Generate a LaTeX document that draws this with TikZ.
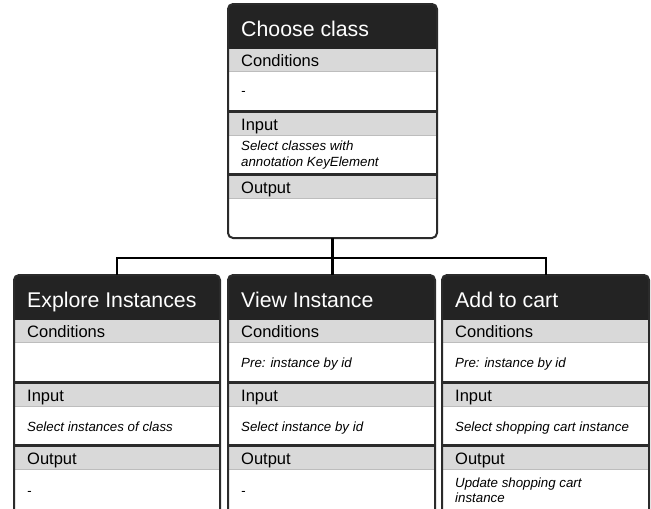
\documentclass[tikz,border=0pt]{standalone}
\usepackage{fontspec}
\setmainfont{Liberation Sans}
\definecolor{hdr}{HTML}{232323}
\definecolor{band}{HTML}{D9D9D9}
\definecolor{edge}{HTML}{2B2B2B}
\definecolor{thin}{HTML}{BDBDBD}
\tikzset{
 cardframe/.style={rectangle, rounded corners=5pt, fill=white, inner sep=0pt, outer sep=0pt},
 cardedge/.style={draw=edge, line width=2pt, rounded corners=5pt},
 hdrtext/.style={text=white, font=\fontsize{21.3}{25}\selectfont, inner sep=0pt, anchor=base west},
 labeltext/.style={text=black, font=\fontsize{16.5}{19}\selectfont, inner sep=0pt, anchor=base west},
 bodytext/.style={text=black, font=\fontsize{13.3}{15}\selectfont\itshape, inner sep=0pt, anchor=base west},
 sepline/.style={draw=edge, line width=3pt},
 thinline/.style={draw=thin, line width=1pt},
 conn/.style={draw=black, line width=2pt},
 connthick/.style={draw=black, line width=3pt},
}
\newcommand\card[6]{%
 \node[cardframe, minimum width=#4pt, minimum height=#5pt, anchor=north west] (#1) at (#2,#3) {};
 \begin{scope}
 \clip[rounded corners=5pt] (#1.north west) rectangle (#1.south east);
 \fill[hdr] (#1.north west) rectangle ++(#4,44.5);
 \foreach \k/\lab in {0/Conditions,1/Input,2/Output}{
   \pgfmathsetmacro\s{44.5+63.5*\k}
   \fill[band] (#2,#3+\s) rectangle ++(#4,23);
   \draw[thinline] (#2,#3+\s+23) -- ++(#4,0);
 }
 \draw[sepline] (#2,#3+44.5+63.5-1) -- ++(#4,0);
 \draw[sepline] (#2,#3+44.5+127-1) -- ++(#4,0);
 \end{scope}
 \foreach \k/\lab in {0/Conditions,1/Input,2/Output}{
   \pgfmathsetmacro\s{44.5+63.5*\k}
   \node[labeltext] (#1-l\k) at (#2+13,#3+\s+18) {\lab};
 }
 \node[hdrtext] (#1-t) at (#2+13,#3+32.5) {#6};
 \draw[cardedge] (#1.north west) rectangle (#1.south east);
}
\begin{document}
\begin{tikzpicture}[x=1pt,y=-1pt]
\useasboundingbox (0,0) rectangle (651,509);
\clip (0,0) rectangle (651,509);
\fill[white] (0,0) rectangle (651,509);
% cards
\card{top}{228}{4}{209}{234}{Choose class}
\card{ex}{14}{275}{206}{242}{Explore Instances}
\card{vi}{228}{275}{207}{242}{View Instance}
\card{ad}{442}{275}{207}{242}{Add to cart}
% connectors
\coordinate (bus) at (332.5,258);
\draw[connthick] (top.south) -- (top.south |- vi.north);
\draw[conn] (ex.north) |- (bus) -| (ad.north);
% body texts: top
\node[bodytext] (top-cb) at (241,95.5) {-};
\node[bodytext] (top-ib1) at (241,150.5) {Select classes with};
\node[bodytext] (top-ib2) at (241,166) {annotation KeyElement};
% explore
\node[bodytext] (ex-ib) at (27,431.5) {Select instances of class};
\node[bodytext] (ex-ob) at (27,495.5) {-};
% view
\node[bodytext] (vi-cb) at (241,367.5) {Pre: instance by id};
\node[bodytext] (vi-ib) at (241,431.5) {Select instance by id};
\node[bodytext] (vi-ob) at (241,495.5) {-};
% add
\node[bodytext] (ad-cb) at (455,367.5) {Pre: instance by id};
\node[bodytext] (ad-ib) at (455,431.5) {Select shopping cart instance};
\node[bodytext] (ad-ob1) at (455,487) {Update shopping cart};
\node[bodytext] (ad-ob2) at (455,502) {instance};
\end{tikzpicture}
\end{document}
